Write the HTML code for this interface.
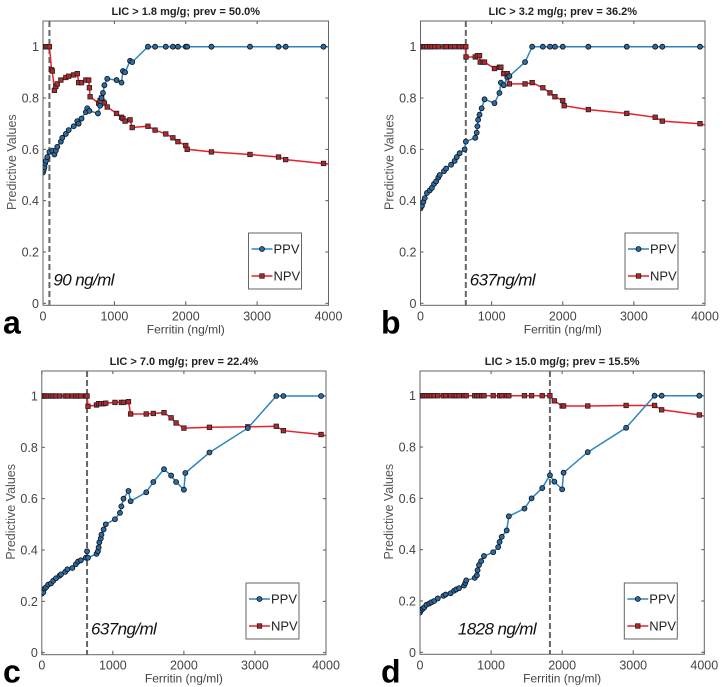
<!DOCTYPE html>
<html><head><meta charset="utf-8"><style>
body{margin:0;background:#fff;}
svg{display:block;font-family:"Liberation Sans",sans-serif;}
</style></head><body>
<svg id="chart" width="722" height="687" viewBox="0 0 722 687"></svg>
<script>
const xTicks=[0,1000,2000,3000,4000];
const yTicks=[0,0.2,0.4,0.6,0.8,1];
const titles=["LIC > 1.8 mg/g; prev = 50.0%","LIC > 3.2 mg/g; prev = 36.2%","LIC > 7.0 mg/g; prev = 22.4%","LIC > 15.0 mg/g; prev = 15.5%"];
const letters=["a","b","c","d"];
const cutoffs=[90,637,637,1828];
const cutoffLabels=["90 ng/ml","637ng/ml","637ng/ml","1828 ng/ml"];

const aPpvX=[0,10,20,30,40,60,90,130,160,180,200,250,270,320,360,430,480,500,540,600,620,650,770,800,820,840,860,900,1030,1100,1120,1150,1220,1250,1470,1570,1720,1820,1890,2000,2020,2360,2900,3300,3400,3930,4000];
const aPpvY=[0.51,0.52,0.53,0.545,0.555,0.57,0.59,0.595,0.58,0.595,0.61,0.63,0.645,0.66,0.675,0.69,0.71,0.70,0.72,0.745,0.76,0.75,0.74,0.77,0.80,0.82,0.85,0.875,0.87,0.86,0.905,0.9,0.945,0.94,1,1,1,1,1,1,1,1,1,1,1,1,1];
const aNpvX=[0,20,40,60,90,120,130,160,180,200,250,320,360,430,480,500,540,600,640,650,660,780,800,820,840,860,900,1030,1100,1120,1150,1220,1250,1470,1570,1720,1820,1890,2000,2020,2360,2900,3300,3400,3930,4000];
const aNpvY=[1,1,1,1,1,0.91,0.905,0.83,0.845,0.855,0.87,0.88,0.885,0.89,0.895,0.86,0.86,0.87,0.87,0.84,0.805,0.78,0.79,0.80,0.785,0.78,0.765,0.74,0.725,0.72,0.71,0.715,0.685,0.69,0.675,0.66,0.645,0.63,0.615,0.60,0.59,0.58,0.57,0.56,0.545,0.543];

const bPpvX=[0,20,40,60,90,130,160,190,220,250,270,330,360,430,480,510,550,620,637,770,790,800,810,830,860,900,1040,1110,1130,1170,1220,1250,1470,1570,1720,1820,1890,2000,2360,2900,3300,3400,3930,4000];
const bPpvY=[0.37,0.38,0.395,0.41,0.43,0.44,0.45,0.465,0.475,0.49,0.5,0.515,0.525,0.54,0.555,0.57,0.585,0.6,0.63,0.645,0.665,0.69,0.715,0.735,0.76,0.795,0.78,0.82,0.86,0.85,0.88,0.885,0.94,1,1,1,1,1,1,1,1,1,1,1];
const bNpvX=[0,20,40,60,90,130,160,200,250,330,360,430,480,550,600,637,640,770,800,830,840,880,900,1040,1110,1130,1170,1220,1250,1470,1570,1720,1820,1890,2000,2020,2360,2900,3300,3400,3930,4000];
const bNpvY=[1,1,1,1,1,1,1,1,1,1,1,1,1,1,1,1,0.96,0.96,0.965,0.965,0.94,0.94,0.94,0.915,0.92,0.92,0.895,0.895,0.855,0.855,0.86,0.84,0.82,0.805,0.79,0.77,0.755,0.74,0.725,0.71,0.70,0.695];

const cPpvX=[0,20,40,60,90,130,160,200,250,270,330,360,430,480,510,550,620,637,650,770,790,800,810,830,840,870,900,1030,1100,1120,1150,1220,1250,1470,1570,1720,1820,1890,2000,2020,2360,2900,3300,3400,3930,4000];
const cPpvY=[0.23,0.235,0.25,0.255,0.265,0.27,0.28,0.29,0.3,0.305,0.315,0.325,0.33,0.345,0.355,0.36,0.37,0.395,0.37,0.385,0.395,0.41,0.43,0.445,0.46,0.48,0.5,0.52,0.545,0.57,0.6,0.63,0.59,0.625,0.665,0.715,0.69,0.665,0.635,0.7,0.78,0.875,1,1,1,1];
const cNpvX=[0,20,40,60,90,130,160,200,250,330,360,430,480,510,550,620,637,650,770,800,830,870,900,1030,1120,1150,1220,1250,1470,1570,1720,1820,1890,2000,2360,2900,3300,3400,3930,4000];
const cNpvY=[1,1,1,1,1,1,1,1,1,1,1,1,1,1,1,1,1,0.96,0.965,0.97,0.97,0.97,0.972,0.975,0.975,0.975,0.978,0.93,0.93,0.932,0.935,0.915,0.895,0.875,0.878,0.88,0.882,0.865,0.85,0.845];

const dPpvX=[0,20,40,60,90,130,160,200,250,330,360,430,480,510,550,620,637,650,770,800,810,830,860,900,1030,1100,1120,1150,1220,1250,1470,1570,1720,1828,1890,2000,2020,2360,2900,3300,3400,3930,4000];
const dPpvY=[0.155,0.165,0.17,0.175,0.185,0.19,0.195,0.2,0.21,0.22,0.225,0.23,0.24,0.245,0.25,0.26,0.27,0.28,0.29,0.3,0.32,0.34,0.355,0.375,0.39,0.41,0.43,0.45,0.475,0.53,0.56,0.6,0.64,0.69,0.665,0.635,0.7,0.78,0.875,1,1,1,1];
const dNpvX=[0,20,40,60,90,130,160,200,250,330,360,430,480,510,550,620,650,770,800,830,870,900,1030,1120,1150,1220,1250,1470,1570,1720,1828,1890,2000,2020,2360,2900,3300,3400,3930,4000];
const dNpvY=[1,1,1,1,1,1,1,1,1,1,1,1,1,1,1,1,1,1,1,1,1,1,1,1,1,1,1,1,1,1,1,0.98,0.96,0.96,0.96,0.962,0.962,0.945,0.925,0.92];

const ppvXs=[aPpvX,bPpvX,cPpvX,dPpvX], ppvYs=[aPpvY,bPpvY,cPpvY,dPpvY];
const npvXs=[aNpvX,bNpvX,cNpvX,dNpvX], npvYs=[aNpvY,bNpvY,cNpvY,dNpvY];

const NS="http://www.w3.org/2000/svg";
const svg=document.getElementById('chart');
function mk(tag,attrs,parent,text){const e=document.createElementNS(NS,tag);for(const k in attrs)e.setAttribute(k,attrs[k]);if(text!==undefined)e.textContent=text;(parent||svg).appendChild(e);return e;}

const boxes=[{x0:43,x1:328.5,top:21,y0:303.3,y1:46.7},{x0:420.5,x1:705,top:21,y0:303.3,y1:46.7},{x0:41.8,x1:326,top:371,y0:652.7,y1:396},{x0:420,x1:704.3,top:371,y0:652.3,y1:395.7}];

boxes.forEach((b,i)=>{
  const g=mk('g',{});
  
  
  const sx=v=>b.x0+(b.x1-b.x0)*v/4000;
  const sy=v=>b.y0+(b.y1-b.y0)*v;
  const cx=(b.x0+b.x1)/2;
  const t=mk('text',{x:cx,y:b.top-6,'text-anchor':'middle','font-size':11,'font-weight':'bold',fill:'#222'},g,titles[i]);
  
  
  const clip=mk('clipPath',{id:'clip'+i},g);
  mk('rect',{x:b.x0,y:b.top,width:b.x1-b.x0,height:b.y0-b.top+2},clip);
  xTicks.forEach(v=>{
    const x=sx(v);
    mk('line',{x1:x,x2:x,y1:b.y0+2,y2:b.y0-2,stroke:'#555'},g);
    mk('line',{x1:x,x2:x,y1:b.top,y2:b.top+3,stroke:'#555'},g);
    const tl=mk('text',{x:x,y:b.y0+17,'text-anchor':'middle','font-size':12.5,fill:'#444'},g,String(v));
    
    
  });
  yTicks.forEach(v=>{
    const y=sy(v);
    mk('line',{x1:b.x0,x2:b.x0+3,y1:y,y2:y,stroke:'#555'},g);
    mk('line',{x1:b.x1,x2:b.x1-3,y1:y,y2:y,stroke:'#555'},g);
    const tl=mk('text',{x:b.x0-4,y:y+4.5,'text-anchor':'end','font-size':12.5,fill:'#444'},g,String(v));
    
    
  });
  const fr=mk('rect',{x:b.x0,y:b.top,width:b.x1-b.x0,height:b.y0+2-b.top,fill:'none',stroke:'#666','stroke-width':1},g);
  
  
  const xl=mk('text',{x:cx,y:b.y0+30,'text-anchor':'middle','font-size':12,fill:'#444'},g,'Ferritin (ng/ml)');
  
  
  const yc=(b.top+b.y0)/2;
  const yl=mk('text',{x:b.x0-27,y:yc,'text-anchor':'middle','font-size':12.5,fill:'#555',transform:`rotate(-90 ${b.x0-27} ${yc})`},g,'Predictive Values');
  
  
  const cl=mk('line',{x1:sx(cutoffs[i]),x2:sx(cutoffs[i]),y1:b.top,y2:b.y0+2,stroke:'#666','stroke-width':2,'stroke-dasharray':'6,3'},g);
  
  
  const ca=mk('text',{x:sx(cutoffs[i])+(i===3?-92:4),y:b.y0-18,'font-size':17,'font-style':'italic',fill:'#111','letter-spacing':'-0.6'},g,cutoffLabels[i]);
  
  
  const series=[{xs:npvXs[i],ys:npvYs[i],col:'#e8202a',fill:'#b3262b',sq:true,name:'npv'},{xs:ppvXs[i],ys:ppvYs[i],col:'#2e86c1',fill:'#2a6aa5',sq:false,name:'ppv'}];
  series.forEach(s=>{
    const sg=mk('g',{'clip-path':`url(#clip${i})`},g);
    
    
    const pts=s.xs.map((x,k)=>sx(x).toFixed(1)+','+sy(s.ys[k]).toFixed(1)).join(' ');
    const pl=mk('polyline',{points:pts,fill:'none',stroke:s.col,'stroke-width':1.5},sg);
    
    
    s.xs.forEach((x,k)=>{
      if(x>=4000)return;
      const px=sx(x),py=sy(s.ys[k]);
      let m;
      if(s.sq) m=mk('rect',{x:px-2.25,y:py-2.25,width:4.5,height:4.5,fill:s.fill,stroke:'#222','stroke-width':0.8},sg);
      else m=mk('circle',{cx:px,cy:py,r:2.5,fill:s.fill,stroke:'#111','stroke-width':0.8},sg);
      
      
    });
  });
  const lx=b.x1-80, ly=b.top+212;
  const lg=mk('g',{},g);
  
  
  mk('rect',{x:lx,y:ly,width:53,height:56,fill:'#fff',stroke:'#666'},lg);
  [['PPV','#2e86c1','#2a6aa5',false],['NPV','#e8202a','#b3262b',true]].forEach((e,k)=>{
    const yy=ly+16+k*27;
    const eg=mk('g',{},lg);
    
    
    mk('line',{x1:lx+3,x2:lx+24,y1:yy,y2:yy,stroke:e[1],'stroke-width':1.5},eg);
    if(e[3]) mk('rect',{x:lx+11.25,y:yy-2.25,width:4.5,height:4.5,fill:e[2],stroke:'#222','stroke-width':0.8},eg);
    else mk('circle',{cx:lx+13.5,cy:yy,r:2.5,fill:e[2],stroke:'#111','stroke-width':0.8},eg);
    mk('text',{x:lx+25,y:yy+4.5,'font-size':13,fill:'#222'},eg,e[0]);
  });
  const pl=mk('text',{x:i%2===0?3:381,y:b.y0+30,'font-size':32,'font-weight':'bold',fill:'#000'},g,letters[i]);
  
  
});
</script>
</body></html>
